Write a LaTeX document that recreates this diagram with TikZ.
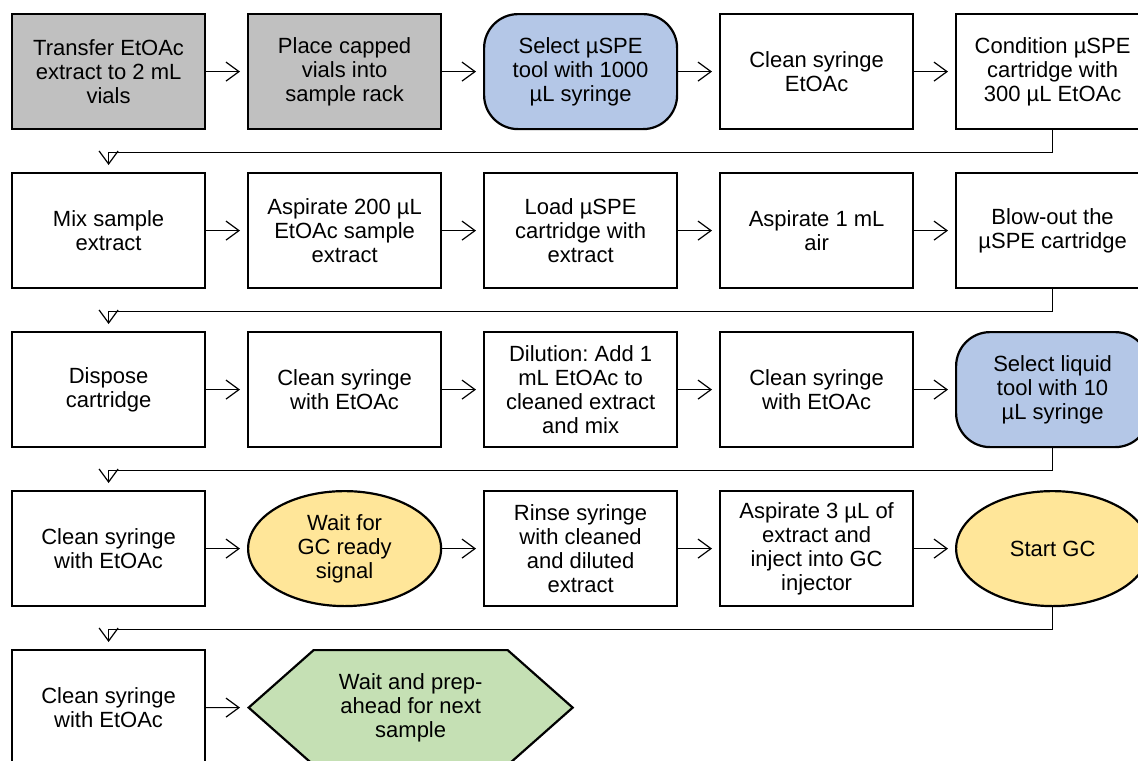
\documentclass[tikz,border=0pt]{standalone}
\usepackage{fontspec}
\setmainfont{Liberation Sans}
\usetikzlibrary{shapes, arrows.meta, positioning}
\definecolor{prepgray}{HTML}{C0C0C0}
\definecolor{toolblue}{HTML}{B4C7E7}
\definecolor{waityellow}{HTML}{FFE699}
\definecolor{endgreen}{HTML}{C5E0B4}
\frenchspacing
\tikzstyle{process} = [draw=black, line width=1.1pt, rectangle, minimum width=96.5pt, minimum height=57.5pt, inner sep=2pt, align=center, font=\fontsize{11pt}{12pt}\selectfont]
\tikzstyle{prep} = [process, fill=prepgray]
\tikzstyle{tool} = [process, fill=toolblue, rounded corners=17pt]
\tikzstyle{waitstate} = [process, ellipse, fill=waityellow]
\tikzstyle{finish} = [process, signal, signal to=west and east, signal pointer angle=83, fill=endgreen, minimum width=162pt]
\tikzstyle{flowline} = [line width=0.6pt, -{Straight Barb[length=6.5pt,width=9.5pt]}, shorten >=3.5pt]

\begin{document}
\begin{tikzpicture}[node distance=20.9pt and 20.4pt]
	\useasboundingbox (-5.5pt,6.5pt) rectangle (563.5pt,-373.5pt);
	\node[prep, anchor=north west] (r1a) at (0,0) {Transfer EtOAc\\extract to 2 mL\\vials};
	\node[prep, right=of r1a] (r1b) {Place capped\\vials into\\sample rack};
	\node[tool, right=of r1b] (r1c) {Select µSPE\\tool with 1000\\µL syringe};
	\node[process, right=of r1c] (r1d) {Clean syringe\\EtOAc};
	\node[process, right=of r1d] (r1e) {Condition µSPE\\cartridge with\\300 µL EtOAc};

	\node[process, below=of r1a] (r2a) {Mix sample\\extract};
	\node[process, right=of r2a] (r2b) {Aspirate 200 µL\\EtOAc sample\\extract};
	\node[process, right=of r2b] (r2c) {Load µSPE\\cartridge with\\extract};
	\node[process, right=of r2c] (r2d) {Aspirate 1 mL\\air};
	\node[process, right=of r2d] (r2e) {Blow-out the\\µSPE cartridge};

	\node[process, below=of r2a] (r3a) {Dispose\\cartridge};
	\node[process, right=of r3a] (r3b) {Clean syringe\\with EtOAc};
	\node[process, right=of r3b] (r3c) {Dilution: Add 1\\mL EtOAc to\\cleaned extract\\and mix};
	\node[process, right=of r3c] (r3d) {Clean syringe\\with EtOAc};
	\node[tool, right=of r3d] (r3e) {Select liquid\\tool with 10\\µL syringe};

	\node[process, below=of r3a] (r4a) {Clean syringe\\with EtOAc};
	\node[waitstate, right=of r4a] (r4b) {Wait for\\GC ready\\signal};
	\node[process, right=of r4b] (r4c) {Rinse syringe\\with cleaned\\and diluted\\extract};
	\node[process, right=of r4c] (r4d) {Aspirate 3 µL of\\extract and\\inject into GC\\injector};
	\node[waitstate, right=of r4d] (r4e) {Start GC};

	\node[process, below=of r4a] (r5a) {Clean syringe\\with EtOAc};
	\node[finish, right=of r5a] (r5b) {Wait and prep-\\ahead for next\\sample};

	\foreach \row in {1,2,3,4} {
		\draw[flowline] (r\row a) -- (r\row b);
		\draw[flowline] (r\row b) -- (r\row c);
		\draw[flowline] (r\row c) -- (r\row d);
		\draw[flowline] (r\row d) -- (r\row e);
	}
	\draw[flowline] (r5a) -- (r5b);

	\draw[flowline] (r1e.south) -- ++(0,-11pt) -| (r2a.north);
	\draw[flowline] (r2e.south) -- ++(0,-11pt) -| (r3a.north);
	\draw[flowline] (r3e.south) -- ++(0,-11pt) -| (r4a.north);
	\draw[flowline] (r4e.south) -- ++(0,-11pt) -| (r5a.north);
\end{tikzpicture}
\end{document}
